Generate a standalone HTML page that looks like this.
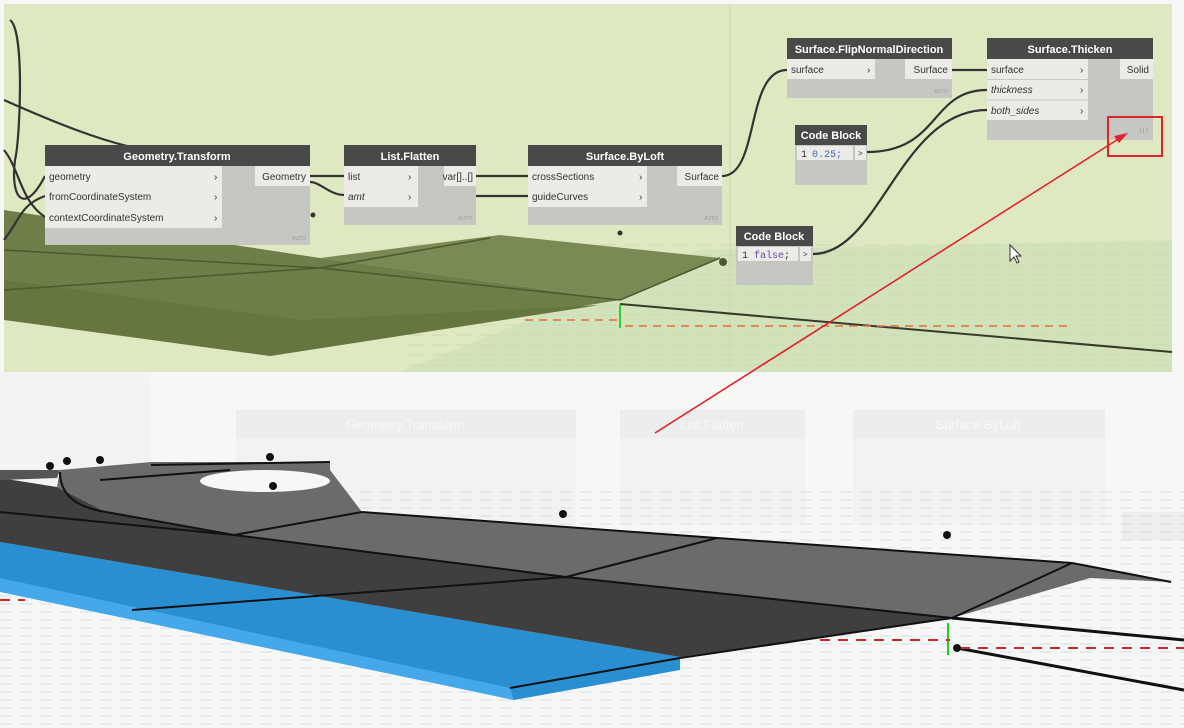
<!DOCTYPE html>
<html><head><meta charset="utf-8"><style>
html,body{margin:0;padding:0;background:#fff;}
svg{display:block;font-family:"Liberation Sans",sans-serif;}
</style></head><body>
<svg width="1184" height="728" viewBox="0 0 1184 728" xmlns="http://www.w3.org/2000/svg">
<defs>
<pattern id="g1" width="20" height="8" patternUnits="userSpaceOnUse">
<path d="M0 4 H12" stroke="#d6e1ea" stroke-width="1.2"/>
</pattern>
<pattern id="g2" width="24" height="10" patternUnits="userSpaceOnUse">
<path d="M0 5 H16" stroke="#c8dab0" stroke-width="1.2"/>
</pattern>
</defs>
<rect x="0" y="0" width="1184" height="728" fill="#f7f8f6"/>
<rect x="0" y="490" width="1184" height="238" fill="url(#g1)"/>
<!-- faded nodes in bottom -->
<g opacity="0.3" font-size="13">
<rect x="236" y="410" width="340" height="120" fill="#e8e8e8"/><rect x="236" y="410" width="340" height="28" fill="#d6d6d6"/>
<text x="405" y="429" text-anchor="middle" fill="#fff">Geometry.Transform</text>
<rect x="620" y="410" width="185" height="115" fill="#e8e8e8"/><rect x="620" y="410" width="185" height="28" fill="#d6d6d6"/>
<text x="712" y="429" text-anchor="middle" fill="#fff">List.Flatten</text>
<rect x="853" y="410" width="252" height="115" fill="#e8e8e8"/><rect x="853" y="410" width="252" height="28" fill="#d6d6d6"/>
<text x="978" y="429" text-anchor="middle" fill="#fff">Surface.ByLoft</text>
<rect x="0" y="372" width="150" height="160" fill="#e8e8e8"/>
<rect x="1122" y="512" width="62" height="28" fill="#d6d6d6"/>
</g>
<!-- bottom geometry -->
<polygon points="0,542 680,657 680,670 514,700 0,590" fill="#2a8fd0"/>
<polygon points="0,578 510,688 514,700 0,592" fill="#44a8ea"/>
<polygon points="0,478 57,487 106,512 234,535 566,577 952,618 680,657 0,542" fill="#3f3f3f"/>
<polygon points="57,487 60,470 151,462 330,462 330,470 362,512 717,538 1072,563 1171,582 1090,578 952,618 566,577 234,535 106,512" fill="#6b6b6b"/>
<polygon points="0,480 57,478 60,470 0,470" fill="#555"/>
<ellipse cx="265" cy="481" rx="65" ry="11" fill="#f7f8f6"/>
<g stroke="#111" stroke-width="2" fill="none">
<path d="M151,465 L330,462"/>
<path d="M60,472 Q60,505 106,512 L234,535 L566,577 L952,618 L1072,563"/>
<path d="M0,512 L234,535"/>
<path d="M132,610 L566,577 L717,538"/>
<path d="M234,535 L362,512"/>
<path d="M100,480 L230,470"/>
<path d="M510,688 L680,658 L952,618"/>
<path d="M362,512 L717,538 L1072,563 L1171,582"/>
<path d="M952,618 L1184,640" stroke-width="3"/>
<path d="M957,648 L1184,690" stroke-width="3"/>
</g>
<path d="M948,623 V655" stroke="#2c2" stroke-width="2"/>
<path d="M0,600 H25 M820,640 H950 M960,648 H1184" stroke="#d22" stroke-width="2" stroke-dasharray="10 8"/>
<g fill="#111"><circle cx="50" cy="466" r="4"/><circle cx="67" cy="461" r="4"/><circle cx="100" cy="460" r="4"/><circle cx="270" cy="457" r="4"/><circle cx="273" cy="486" r="4"/><circle cx="563" cy="514" r="4"/><circle cx="947" cy="535" r="4"/><circle cx="957" cy="648" r="4"/></g>
<!-- top panel -->
<rect x="4" y="4" width="1168" height="368" fill="#dfe9c1"/>
<polygon points="400,372 700,250 1172,240 1172,372" fill="#d2e2ba"/>
<rect x="400" y="240" width="772" height="132" fill="url(#g2)" opacity="0.8"/>
<path d="M730 4 V372" stroke="#cbd9a8" stroke-width="1"/>
<polygon points="4,210 320,258 620,300 270,356 4,300" fill="#6e7e48"/>
<polygon points="320,258 500,235 720,258 620,300" fill="#7a8a55"/>
<polygon points="4,280 300,320 600,305 270,356 4,320" fill="#66763f"/>
<g stroke="#4a5a2a" stroke-width="1.5" fill="none">
<path d="M4,290 L320,268 L620,300 M4,250 L320,268 L490,238 M620,300 L720,258"/>
<path d="M620,304 L1172,352" stroke="#3a3a2a" stroke-width="2"/>
</g>
<path d="M620,305 V328" stroke="#3c3" stroke-width="2"/>
<path d="M525,320 H620 M625,326 H1070" stroke="#e07040" stroke-width="1.5" stroke-dasharray="8 6"/>
<!-- wires -->
<g stroke="#333" stroke-width="2.2" fill="none">
<path d="M10,20 C25,30 20,140 15,160 C10,200 25,215 45,176"/>
<path d="M4,100 C60,125 100,140 135,148"/>
<path d="M4,150 C20,170 20,200 45,217"/>
<path d="M4,240 C20,220 20,205 45,196"/>
<path d="M310,176 H344"/><path d="M310,182 C320,182 330,195 344,195"/>
<path d="M476,176 H528"/><path d="M476,196 H528"/>
<path d="M722,176 C760,176 745,70 787,70"/>
<path d="M952,70 H987"/>
<path d="M867,152 C940,152 930,90 987,90"/>
<path d="M813,254 C880,254 900,110 987,110"/>
</g>
<g font-size="10" fill="#333">
<rect x="45" y="145" width="265" height="100" fill="#c6c6c2"/>
<rect x="45" y="145" width="265" height="21" fill="#494949"/>
<text x="177" y="160" text-anchor="middle" fill="#fff" font-size="11" font-weight="bold">Geometry.Transform</text>
<rect x="45" y="166" width="177" height="62" fill="#ecebe8"/>
<rect x="255" y="166" width="55" height="20" fill="#ecebe8"/>
<text x="49" y="180">geometry</text><text x="49" y="200">fromCoordinateSystem</text><text x="49" y="221">contextCoordinateSystem</text>
<text x="214" y="180">›</text><text x="214" y="200">›</text><text x="214" y="221">›</text>
<text x="306" y="180" text-anchor="end">Geometry</text>
<text x="306" y="240" text-anchor="end" font-size="5" fill="#999">AUTO</text>
<rect x="344" y="145" width="132" height="80" fill="#c6c6c2"/>
<rect x="344" y="145" width="132" height="21" fill="#494949"/>
<text x="410" y="160" text-anchor="middle" fill="#fff" font-size="11" font-weight="bold">List.Flatten</text>
<rect x="344" y="166" width="74" height="41" fill="#ecebe8"/>
<rect x="444" y="166" width="32" height="20" fill="#ecebe8"/>
<text x="348" y="180">list</text><text x="348" y="200" font-style="italic">amt</text>
<text x="408" y="180">›</text><text x="408" y="200">›</text>
<text x="473" y="180" text-anchor="end">var[]..[]</text>
<text x="472" y="220" text-anchor="end" font-size="5" fill="#999">AUTO</text>
<rect x="528" y="145" width="194" height="80" fill="#c6c6c2"/>
<rect x="528" y="145" width="194" height="21" fill="#494949"/>
<text x="625" y="160" text-anchor="middle" fill="#fff" font-size="11" font-weight="bold">Surface.ByLoft</text>
<rect x="528" y="166" width="119" height="41" fill="#ecebe8"/>
<rect x="677" y="166" width="45" height="20" fill="#ecebe8"/>
<text x="532" y="180">crossSections</text><text x="532" y="200">guideCurves</text>
<text x="639" y="180">›</text><text x="639" y="200">›</text>
<text x="719" y="180" text-anchor="end">Surface</text>
<text x="718" y="220" text-anchor="end" font-size="5" fill="#999">AUTO</text>
<rect x="787" y="38" width="165" height="60" fill="#c6c6c2"/>
<rect x="787" y="38" width="165" height="21" fill="#494949"/>
<text x="869" y="53" text-anchor="middle" fill="#fff" font-size="11" font-weight="bold">Surface.FlipNormalDirection</text>
<rect x="787" y="59" width="88" height="20" fill="#ecebe8"/>
<rect x="905" y="59" width="47" height="20" fill="#ecebe8"/>
<text x="791" y="73">surface</text><text x="867" y="73">›</text>
<text x="948" y="73" text-anchor="end">Surface</text>
<text x="948" y="93" text-anchor="end" font-size="5" fill="#999">AUTO</text>
<rect x="987" y="38" width="166" height="102" fill="#c6c6c2"/>
<rect x="987" y="38" width="166" height="21" fill="#494949"/>
<text x="1070" y="53" text-anchor="middle" fill="#fff" font-size="11" font-weight="bold">Surface.Thicken</text>
<rect x="987" y="59" width="101" height="61" fill="#ecebe8"/>
<rect x="1120" y="59" width="33" height="20" fill="#ecebe8"/>
<path d="M987,79.5 H1088 M987,100 H1088" stroke="#c6c6c2"/>
<text x="991" y="73">surface</text><text x="991" y="93" font-style="italic">thickness</text><text x="991" y="114" font-style="italic">both_sides</text>
<text x="1080" y="73">›</text><text x="1080" y="93">›</text><text x="1080" y="114">›</text>
<text x="1149" y="73" text-anchor="end">Solid</text>
<text x="1148" y="133" text-anchor="end" font-size="6" fill="#999">ꟾ ꟾ ꟾ</text>
<rect x="795" y="125" width="72" height="60" fill="#c6c6c2"/>
<rect x="795" y="125" width="72" height="20" fill="#494949"/>
<text x="831" y="139" text-anchor="middle" fill="#fff" font-size="11" font-weight="bold">Code Block</text>
<rect x="797" y="146" width="56" height="14" fill="#ecebe8"/><rect x="855" y="146" width="11" height="14" fill="#ecebe8"/>
<text x="801" y="157" font-family="Liberation Mono,monospace" font-size="10">1</text>
<text x="812" y="157" font-family="Liberation Mono,monospace" font-size="10" fill="#3a6fc0">0.25;</text>
<text x="858" y="156" font-size="8">&gt;</text>
<rect x="736" y="226" width="77" height="59" fill="#c6c6c2"/>
<rect x="736" y="226" width="77" height="20" fill="#494949"/>
<text x="774" y="240" text-anchor="middle" fill="#fff" font-size="11" font-weight="bold">Code Block</text>
<rect x="738" y="247" width="60" height="14" fill="#ecebe8"/><rect x="800" y="247" width="11" height="14" fill="#ecebe8"/>
<text x="742" y="258" font-family="Liberation Mono,monospace" font-size="10">1 <tspan fill="#6a4aa8">false</tspan>;</text>
<text x="803" y="257" font-size="8">&gt;</text>
</g>
<g fill="#333"><circle cx="620" cy="233" r="2.5"/><circle cx="313" cy="215" r="2.5"/><circle cx="723" cy="262" r="4" fill="#4a5a2a"/></g>
<path d="M1010,245 L1010,261 L1014,257 L1017,263 L1019,262 L1016,256 L1021,256 Z" fill="#fff" stroke="#333" stroke-width="1"/>
<rect x="1108" y="117" width="54" height="39" fill="none" stroke="#e0222a" stroke-width="2"/>
<line x1="655" y1="433" x2="1120" y2="138" stroke="#e0222a" stroke-width="1.6"/>
<polygon points="1128,133 1114,136 1119,143" fill="#e0222a"/>
</svg>
</body></html>
